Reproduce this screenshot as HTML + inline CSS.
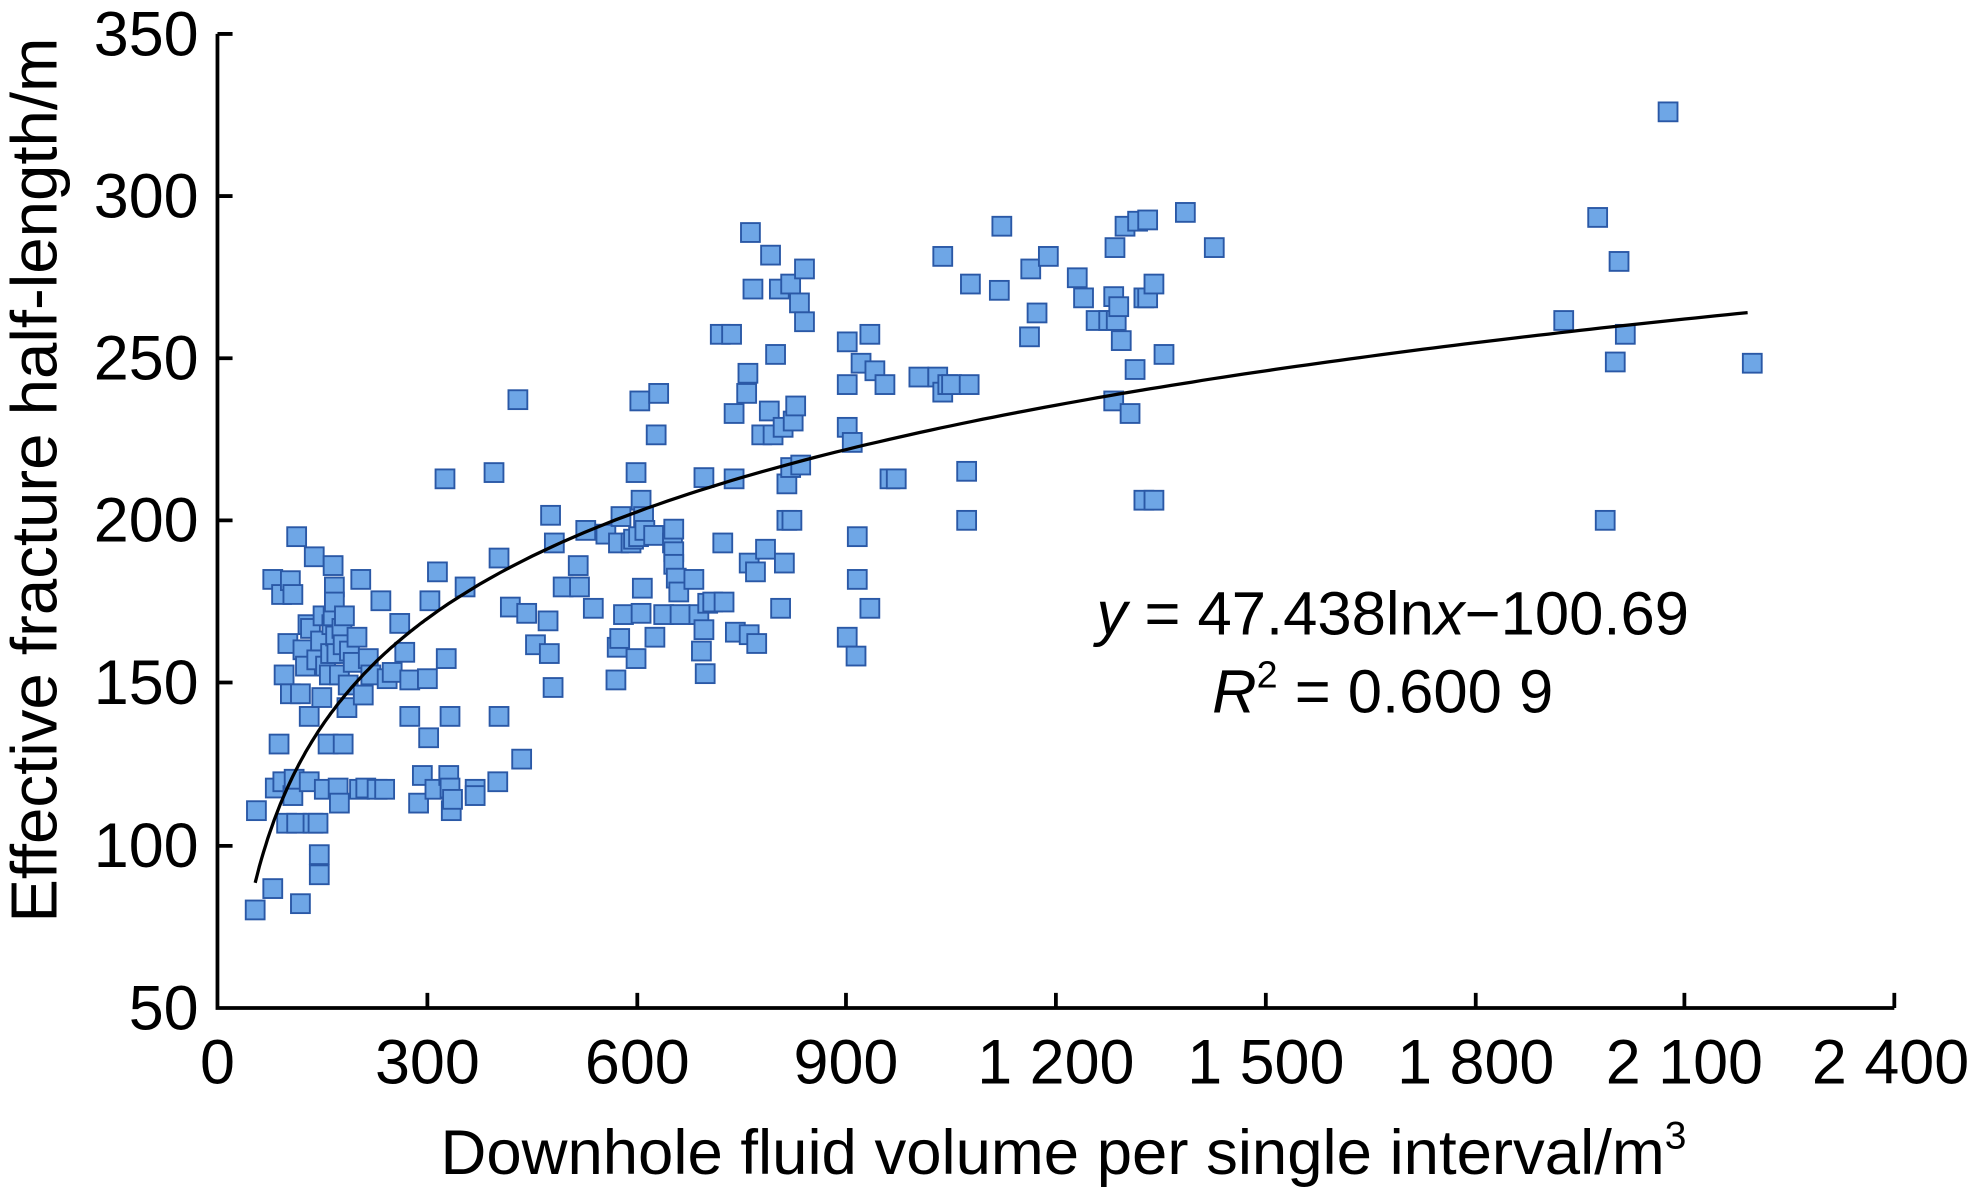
<!DOCTYPE html>
<html><head><meta charset="utf-8"><style>
html,body{margin:0;padding:0;background:#fff;}
svg{display:block;}
text{font-family:"Liberation Sans",Arial,sans-serif;fill:#000;}
</style></head><body>
<svg id="c" width="1971" height="1194" viewBox="0 0 1568 950" preserveAspectRatio="none" xmlns="http://www.w3.org/2000/svg">
<rect width="1568" height="950" fill="#fff"/>
<g id="pts"></g>
<path id="curve" fill="none" stroke="#000" stroke-width="2.6"/>
<g stroke="#000" stroke-width="3" fill="none">
<path d="M173,27 V802 H1507"/>
<path d="M173,27h12M173,156h12M173,285h12M173,414h12M173,543h12M173,673h12"/>
<path d="M340,802v-12M507,802v-12M673,802v-12M840,802v-12M1007,802v-12M1174,802v-12M1340,802v-12M1507,802v-12"/>
</g>
<g font-size="50" text-anchor="end">
<text x="158" y="44">350</text><text x="158" y="173">300</text><text x="158" y="302">250</text>
<text x="158" y="431">200</text><text x="158" y="560">150</text><text x="158" y="690">100</text><text x="158" y="819">50</text>
</g>
<g font-size="50" text-anchor="middle">
<text x="173" y="862">0</text><text x="340" y="862">300</text><text x="507" y="862">600</text><text x="673" y="862">900</text>
<text x="840" y="862">1 200</text><text x="1007" y="862">1 500</text><text x="1174" y="862">1 800</text><text x="1340" y="862">2 100</text><text x="1504" y="862">2 400</text>
</g>
<text x="846" y="934" font-size="50.5" text-anchor="middle">Downhole fluid volume per single interval/m<tspan font-size="31" dy="-20">3</tspan></text>
<text transform="translate(45,382) rotate(-90)" font-size="52" text-anchor="middle">Effective fracture half-length/m</text>
<text x="1108" y="505" font-size="49" text-anchor="middle"><tspan font-style="italic">y</tspan> = 47.438ln<tspan font-style="italic">x</tspan>−100.69</text>
<text x="1100" y="567" font-size="49" text-anchor="middle"><tspan font-style="italic">R</tspan><tspan font-size="30" dy="-20">2</tspan><tspan dy="20"> = 0.600 9</tspan></text>
</svg>
<script>
var P=[[203,724],[204,645],[217,707],[217,461],[219,627],[222,592],[224,473],[225,622],[226,537],[229,512],[228,655],[231,552],[231,462],[233,473],[233,633],[234,620],[236,427],[236,655],[239,719],[239,552],[241,517],[243,530],[245,497],[246,570],[246,622],[247,500],[249,655],[250,443],[252,525],[253,655],[254,680],[254,696],[255,510],[256,555],[257,490],[258,628],[259,530],[261,592],[262,537],[263,520],[264,497],[265,490],[265,450],[266,467],[266,479],[267,506],[268,520],[269,627],[270,537],[270,639],[272,500],[273,592],[273,513],[274,490],[276,563],[277,545],[278,518],[281,527],[284,507],[286,628],[287,461],[289,553],[291,627],[293,524],[295,537],[300,628],[303,478],[306,628],[308,540],[312,535],[318,496],[322,519],[326,570],[326,541],[333,639],[336,617],[340,540],[341,587],[342,478],[346,628],[348,455],[354,381],[355,524],[357,617],[358,627],[358,570],[359,645],[360,636],[370,467],[378,628],[378,633],[393,376],[396,622],[397,444],[397,570],[406,483],[412,318],[415,604],[419,488],[426,513],[436,494],[437,520],[438,410],[440,547],[441,432],[448,467],[460,450],[461,467],[466,422],[472,484],[482,425],[490,541],[491,515],[492,432],[493,508],[494,411],[496,489],[502,432],[504,429],[506,376],[506,524],[508,427],[509,319],[510,398],[510,488],[511,468],[512,411],[513,422],[520,426],[521,507],[522,346],[524,313],[528,489],[535,432],[536,421],[536,439],[536,449],[538,460],[540,471],[541,489],[552,461],[556,489],[558,518],[560,380],[560,501],[561,536],[563,480],[567,479],[573,266],[575,432],[576,479],[582,266],[584,329],[584,381],[585,503],[594,313],[595,297],[596,448],[596,505],[597,185],[599,230],[601,455],[602,512],[606,346],[609,437],[612,327],[613,203],[615,346],[617,282],[620,230],[621,484],[623,340],[624,448],[626,414],[626,385],[629,226],[629,372],[630,414],[631,335],[633,323],[636,241],[637,370],[640,214],[640,256],[674,272],[674,340],[674,306],[674,507],[678,352],[681,522],[682,461],[682,427],[685,289],[692,266],[692,484],[696,295],[704,306],[708,381],[713,381],[731,300],[746,300],[750,204],[750,312],[754,306],[757,306],[769,414],[769,375],[771,306],[772,226],[795,231],[797,180],[819,268],[820,214],[825,249],[834,204],[857,221],[862,237],[872,255],[882,255],[886,236],[886,319],[887,197],[888,255],[890,244],[892,271],[895,180],[899,329],[903,294],[905,176],[910,237],[910,398],[913,175],[913,237],[918,398],[918,226],[926,282],[943,169],[966,197],[1244,255],[1271,173],[1277,414],[1285,288],[1288,208],[1293,266],[1327,89],[1394,289]];
var s='';P.forEach(function(p){s+='<rect x="'+(p[0]-7.5)+'" y="'+(p[1]-7.5)+'" width="15" height="15" fill="#6ea6e6" stroke="#2a58a6" stroke-width="1.5"/>';});
document.getElementById('pts').innerHTML=s;
var d='';for(var x=54;x<=2200;x+=(x<300?3:15)){var y=47.438*Math.log(x)-100.69;var px=173+x*1334/2400,py=802-(y-50)*775/300;d+=(d?'L':'M')+px.toFixed(1)+','+py.toFixed(1);}
document.getElementById('curve').setAttribute('d',d);
</script>
</body></html>
